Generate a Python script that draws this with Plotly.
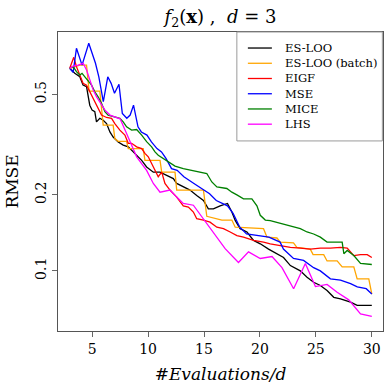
import plotly.graph_objects as go

# ---------------- data (x in #Evaluations/d, y = RMSE) ----------------
series_names = ["ES-LOO", "ES-LOO (batch)", "EIGF", "MSE", "MICE", "LHS"]
series_colors = ["#000000", "#FFA500", "#FF0000", "#0000FF", "#008000", "#FF00FF"]

esloo_x = [3.0, 3.45, 3.9, 4.19, 4.5, 4.79, 5.0, 5.24, 5.39, 5.69, 5.99, 6.29, 6.59, 6.88, 7.33,
           7.78, 8.23, 8.53, 8.98, 9.43, 9.87, 10.47, 11.07, 11.67, 12.26, 12.56, 13.15, 13.75,
           14.35, 14.95, 15.39, 15.84, 16.44, 17.1, 17.49, 17.79, 18.23, 18.84, 19.43, 20.03,
           20.77, 21.22, 22.11, 22.72, 23.61, 24.21, 24.8, 25.4, 26.0, 26.6, 27.2, 28.1, 28.69, 30.0]
esloo_rmse = [0.634, 0.606, 0.587, 0.544, 0.536, 0.453, 0.433, 0.427, 0.389, 0.402, 0.395, 0.383,
              0.355, 0.339, 0.324, 0.315, 0.310, 0.301, 0.287, 0.274, 0.258, 0.246, 0.246, 0.239,
              0.232, 0.222, 0.215, 0.209, 0.199, 0.190, 0.176, 0.176, 0.181, 0.185, 0.171, 0.1585,
              0.147, 0.1426, 0.132, 0.128, 0.122, 0.119, 0.113, 0.105, 0.100, 0.0944, 0.0902,
              0.0875, 0.0836, 0.0786, 0.0775, 0.0752, 0.073, 0.073]

batch_x = [3.0, 3.45, 3.9, 4.5, 4.73, 5.69, 5.99, 6.88, 7.03, 7.33, 8.08, 8.23, 9.57, 9.72, 11.07,
           11.22, 12.41, 12.56, 14.95, 15.25, 16.44, 16.6, 17.49, 17.79, 20.32, 20.63, 21.52,
           21.82, 23.0, 23.3, 24.5, 24.75, 25.7, 26.0, 26.9, 27.35, 28.39, 28.69, 29.73, 30.0]
batch_rmse = [0.634, 0.644, 0.653, 0.653, 0.515, 0.515, 0.378, 0.378, 0.334, 0.326, 0.326, 0.305,
              0.305, 0.274, 0.274, 0.246, 0.246, 0.209, 0.209, 0.1645, 0.160, 0.159, 0.159, 0.149,
              0.147, 0.136, 0.135, 0.130, 0.129, 0.124, 0.122, 0.116, 0.116, 0.1095, 0.1095,
              0.1037, 0.1037, 0.093, 0.093, 0.081]

eigf_x = [3.0, 3.36, 3.6, 3.96, 4.19, 4.5, 4.95, 5.24, 5.54, 5.84, 6.29, 6.74, 7.03, 7.48, 7.93,
          8.23, 8.53, 8.98, 9.43, 9.72, 10.02, 10.32, 10.62, 10.91, 11.22, 11.51, 11.96, 12.56,
          13.15, 13.6, 14.05, 14.35, 14.95, 15.54, 16.15, 16.74, 17.34, 17.94, 18.53, 19.43,
          20.32, 20.92, 21.82, 22.72, 23.61, 24.5, 25.4, 26.3, 27.2, 27.8, 28.39, 28.99, 29.59, 30.0]
eigf_rmse = [0.634, 0.701, 0.644, 0.587, 0.553, 0.544, 0.497, 0.468, 0.440, 0.414, 0.405, 0.402,
             0.383, 0.361, 0.345, 0.320, 0.320, 0.310, 0.305, 0.292, 0.283, 0.266, 0.250, 0.236,
             0.246, 0.222, 0.209, 0.196, 0.181, 0.179, 0.171, 0.161, 0.159, 0.156, 0.149, 0.147,
             0.1426, 0.138, 0.136, 0.132, 0.130, 0.128, 0.126, 0.124, 0.123, 0.122, 0.123, 0.123,
             0.124, 0.123, 0.115, 0.116, 0.116, 0.113]

mse_x = [3.0, 3.3, 3.6, 4.1, 4.7, 5.3, 5.6, 6.0, 6.4, 6.7, 7.0, 7.4, 7.7, 8.1, 8.4, 8.7, 9.1, 9.4,
         9.9, 10.3, 10.8, 11.2, 11.6, 12.1, 12.6, 13.2, 14.1, 15.0, 15.5, 16.1, 16.7, 17.1, 17.6,
         18.2, 18.8, 20.0, 20.8, 21.8, 22.1, 23.0, 23.9, 24.8, 25.4, 26.3, 27.2, 28.1, 28.7, 29.5, 30.0]
mse_rmse = [0.634, 0.611, 0.761, 0.653, 0.797, 0.664, 0.587, 0.468, 0.587, 0.553, 0.505, 0.548,
            0.420, 0.402, 0.414, 0.453, 0.372, 0.355, 0.345, 0.324, 0.305, 0.296, 0.279, 0.254,
            0.250, 0.236, 0.222, 0.209, 0.202, 0.190, 0.185, 0.181, 0.169, 0.149, 0.140, 0.138,
            0.136, 0.130, 0.122, 0.112, 0.110, 0.103, 0.100, 0.093, 0.092, 0.089, 0.0865, 0.085, 0.081]

mice_x = [3.0, 3.3, 3.6, 3.9, 4.1, 4.35, 4.64, 4.95, 5.24, 5.54, 5.84, 6.14, 6.43, 6.88, 7.19, 7.48,
          7.78, 8.08, 8.53, 8.98, 9.43, 9.87, 10.32, 10.62, 10.91, 11.36, 11.81, 12.41, 13.15,
          13.9, 14.65, 15.25, 15.7, 16.15, 17.04, 17.49, 17.94, 18.53, 19.28, 19.73, 20.03,
          20.48, 20.92, 21.82, 22.72, 23.61, 24.21, 24.8, 25.4, 26.0, 26.9, 27.35, 27.5, 27.8,
          28.39, 28.99, 30.0]
mice_rmse = [0.634, 0.644, 0.615, 0.596, 0.606, 0.587, 0.570, 0.544, 0.512, 0.489, 0.461, 0.427,
             0.414, 0.408, 0.405, 0.402, 0.389, 0.372, 0.361, 0.363, 0.345, 0.325, 0.310, 0.296,
             0.287, 0.279, 0.270, 0.260, 0.254, 0.250, 0.246, 0.243, 0.225, 0.215, 0.212, 0.205,
             0.200, 0.193, 0.193, 0.181, 0.166, 0.159, 0.158, 0.154, 0.151, 0.147, 0.1426, 0.140,
             0.136, 0.130, 0.130, 0.130, 0.117, 0.1205, 0.115, 0.107, 0.106]

lhs_x = [3.0, 3.3, 3.75, 4.2, 4.5, 4.8, 5.1, 5.4, 5.7, 6.15, 6.6, 7.03, 7.5, 8.08, 8.53, 8.98,
         9.87, 10.47, 11.07, 11.96, 12.56, 13.15, 14.05, 14.95, 15.84, 16.89, 18.08, 18.98,
         20.03, 21.08, 21.97, 23.01, 24.06, 24.96, 26.0, 26.9, 27.94, 28.99, 30.0]
lhs_rmse = [0.634, 0.647, 0.653, 0.664, 0.625, 0.570, 0.520, 0.489, 0.468, 0.433, 0.414, 0.408,
            0.400, 0.350, 0.315, 0.283, 0.250, 0.222, 0.205, 0.209, 0.196, 0.185, 0.182, 0.161,
            0.1426, 0.1225, 0.108, 0.119, 0.112, 0.114, 0.103, 0.085, 0.107, 0.0867, 0.0884,
            0.0823, 0.0768, 0.0676, 0.066]

xs = [esloo_x, batch_x, eigf_x, mse_x, mice_x, lhs_x]
ys = [esloo_rmse, batch_rmse, eigf_rmse, mse_rmse, mice_rmse, lhs_rmse]

x_ticks = [5, 10, 15, 20, 25, 30]
y_ticks = [0.1, 0.2, 0.5]
y_ticklabels = ["0.1", "0.2", "0.5"]

FONT = "DejaVu Serif"

fig = go.Figure()
for name, color, x, y in zip(series_names, series_colors, xs, ys):
    fig.add_trace(go.Scatter(x=x, y=y, mode="lines", name=name,
                             line=dict(color=color, width=1.3), showlegend=False))

# ---- hand-drawn legend box (matches compact matplotlib legend) ----
leg_left, leg_right, leg_bottom, leg_top = 0.5503, 0.998, 0.6357, 1.0
row_y = [0.9464, 0.8954, 0.8445, 0.7935, 0.7426, 0.6917]
shapes = [dict(type="rect", xref="paper", yref="paper", x0=leg_left, x1=leg_right,
               y0=leg_bottom, y1=leg_top, line=dict(color="#9a9a9a", width=1),
               fillcolor="white", layer="above")]
annotations = []
for name, color, ry in zip(series_names, series_colors, row_y):
    shapes.append(dict(type="line", xref="paper", yref="paper", x0=0.5842, x1=0.6581,
                       y0=ry, y1=ry, line=dict(color=color, width=1.3), layer="above"))
    annotations.append(dict(xref="paper", yref="paper", x=0.6921, y=ry, text=name,
                            showarrow=False, xanchor="left", yanchor="middle",
                            font=dict(family=FONT, size=11.5, color="black")))

fig.update_layout(
    width=390, height=390,
    margin=dict(l=58, r=7, t=32, b=59, autoexpand=False),
    paper_bgcolor="white", plot_bgcolor="white",
    title=dict(text="<i>f</i><sub>2</sub>(<b>x</b>) ,  <i>d</i> = 3",
               x=0.5, xref="paper", y=1 - 17 / 390, yref="container",
               xanchor="center", yanchor="middle",
               font=dict(family=FONT, size=18, color="black")),
    shapes=shapes, annotations=annotations,
    showlegend=False,
)
fig.update_xaxes(
    automargin=False,
    range=[1.95, 31.0], tickvals=x_ticks, ticks="outside", ticklen=5, tickcolor="#666",
    showline=True, linecolor="#555", linewidth=1, mirror=True, showgrid=False, zeroline=False,
    tickfont=dict(family=FONT, size=14, color="black"),
    title=dict(text="<i>#Evaluations/d</i>", standoff=12,
               font=dict(family=FONT, size=17, color="black")),
)
fig.update_yaxes(
    automargin=False,
    type="log", range=[-1.238, -0.054], tickvals=y_ticks, ticktext=y_ticklabels,
    tickangle=-90, ticks="outside", ticklen=5, tickcolor="#666",
    showline=True, linecolor="#555", linewidth=1, mirror=True, showgrid=False, zeroline=False,
    tickfont=dict(family=FONT, size=14, color="black"),
    title=dict(text="RMSE", standoff=10, font=dict(family=FONT, size=17, color="black")),
)

fig.write_html("out.html", config={"displayModeBar": False},
               post_script="document.body.style.margin='0';")
